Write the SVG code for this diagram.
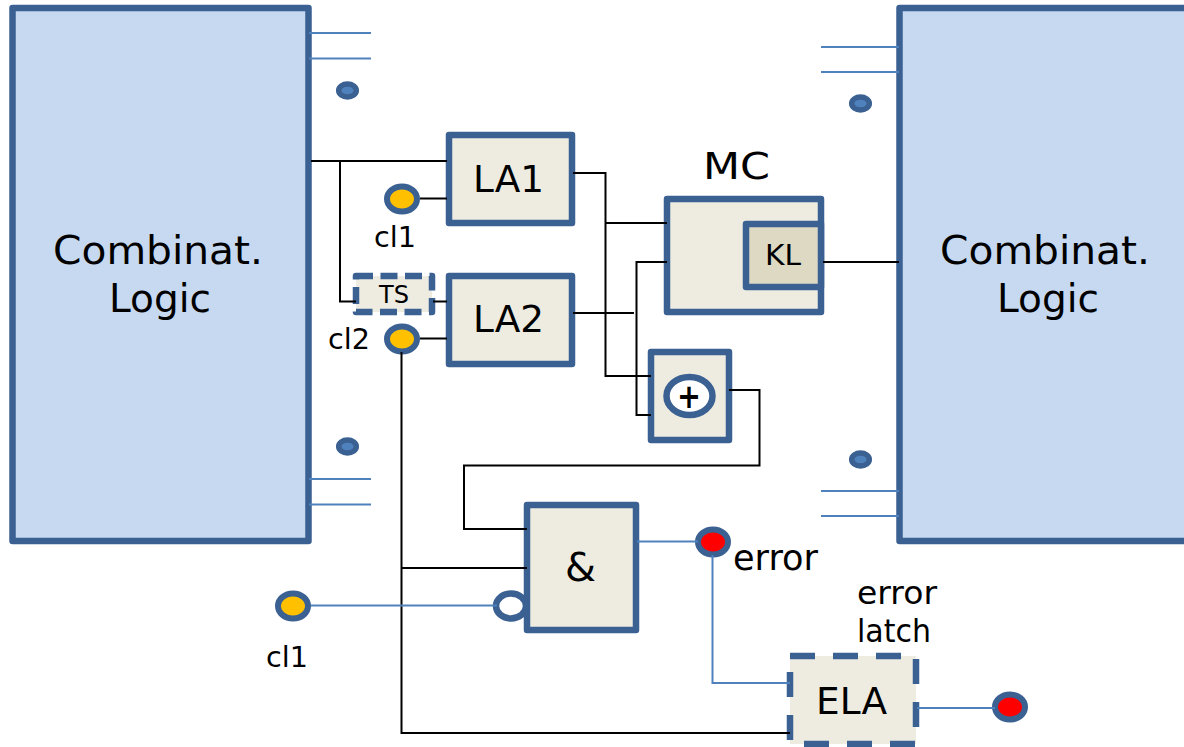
<svg xmlns="http://www.w3.org/2000/svg" width="1184" height="747" viewBox="0 0 1184 747">
<style>
text{font-family:"DejaVu Sans",Verdana,sans-serif;fill:#000;text-anchor:start}
.b{stroke:#3b6092;stroke-width:6.5;stroke-linejoin:round}
.blk{fill:#c6d9f1}
.box{fill:#eeece1}
.clk{fill:#ffc000;stroke:#3b6092;stroke-width:6}
.err{fill:#ff0000;stroke:#3b6092;stroke-width:6}
.dot{fill:#4f81bd;stroke:#3b6092;stroke-width:5.5}
.k{fill:none;stroke:#000;stroke-width:2}
.u{fill:none;stroke:#4f81bd;stroke-width:2}
</style>
<rect width="1184" height="747" fill="#fff"/>
<g id="left-logic">
<rect class="b blk" x="12.5" y="8" width="296" height="533"/>
<text x="53" y="264" font-size="39" textLength="210" lengthAdjust="spacingAndGlyphs">Combinat.</text>
<text x="109" y="312" font-size="39" textLength="102" lengthAdjust="spacingAndGlyphs">Logic</text>
</g>
<g id="right-logic">
<rect class="b blk" x="899.5" y="8" width="300" height="533"/>
<text x="940" y="264" font-size="39" textLength="210" lengthAdjust="spacingAndGlyphs">Combinat.</text>
<text x="997" y="312" font-size="39" textLength="102" lengthAdjust="spacingAndGlyphs">Logic</text>
</g>
<g id="dot-1"><ellipse class="dot" cx="347.5" cy="90.5" rx="8.8" ry="6.5"/></g>
<g id="dot-2"><ellipse class="dot" cx="860.5" cy="103.500" rx="8.8" ry="6.5"/></g>
<g id="dot-3"><ellipse class="dot" cx="347.5" cy="446.500" rx="8.8" ry="6.5"/></g>
<g id="dot-4"><ellipse class="dot" cx="860.5" cy="459.500" rx="8.8" ry="6.5"/></g>
<g id="la1">
<rect class="b box" x="449" y="135" width="123" height="88"/>
<text x="473" y="192" font-size="38" textLength="71" lengthAdjust="spacingAndGlyphs">LA1</text>
</g>
<g id="la2">
<rect class="b box" x="449" y="276" width="123" height="88"/>
<text x="473" y="332" font-size="38" textLength="71" lengthAdjust="spacingAndGlyphs">LA2</text>
</g>
<g id="ts">
<rect class="box" x="356" y="276" width="76" height="36"/>
<rect class="b" fill="none" x="356" y="276" width="76" height="36" stroke-dasharray="17 7.5"/>
<text x="379" y="303" font-size="25" textLength="30" lengthAdjust="spacingAndGlyphs">TS</text>
</g>
<g id="cl1-top">
<ellipse class="clk" cx="402" cy="199" rx="15" ry="12.5"/>
<text x="374" y="247" font-size="29" textLength="42" lengthAdjust="spacingAndGlyphs">cl1</text>
</g>
<g id="cl2">
<ellipse class="clk" cx="402" cy="339" rx="15" ry="12.5"/>
<text x="328" y="349" font-size="29" textLength="42" lengthAdjust="spacingAndGlyphs">cl2</text>
</g>
<g id="mc">
<text x="703" y="179" font-size="38" textLength="67" lengthAdjust="spacingAndGlyphs">MC</text>
<rect class="b box" x="667" y="199" width="154" height="113"/>
</g>
<g id="kl">
<rect class="b" fill="#ddd9c3" x="746" y="224" width="75" height="63"/>
<text x="765" y="265" font-size="28" textLength="36" lengthAdjust="spacingAndGlyphs">KL</text>
</g>
<g id="xor">
<rect class="b box" x="651" y="352" width="78" height="88"/>
<ellipse class="b" fill="#fff" cx="689.5" cy="396" rx="23" ry="19"/>
<text x="677" y="408" font-size="34" font-weight="bold" textLength="24" lengthAdjust="spacingAndGlyphs">+</text>
</g>
<g id="and">
<ellipse class="b" fill="#fff" cx="511" cy="606" rx="15" ry="12.5"/>
<rect class="b box" x="527" y="505" width="109" height="125"/>
<text x="565" y="581" font-size="39" textLength="31" lengthAdjust="spacingAndGlyphs">&amp;</text>
</g>
<g id="cl1-bottom">
<ellipse class="clk" cx="293" cy="606" rx="15" ry="12.5"/>
<text x="266" y="667" font-size="29" textLength="42" lengthAdjust="spacingAndGlyphs">cl1</text>
</g>
<g id="error">
<ellipse class="err" cx="713" cy="542" rx="15" ry="12.5"/>
<text x="733" y="570" font-size="35" textLength="85" lengthAdjust="spacingAndGlyphs">error</text>
</g>
<g id="ela">
<text x="857" y="604" font-size="32" textLength="80" lengthAdjust="spacingAndGlyphs">error</text>
<text x="857" y="642" font-size="32" textLength="74" lengthAdjust="spacingAndGlyphs">latch</text>
<rect class="box" x="790" y="656" width="126" height="88"/>
<rect class="b" fill="none" x="790" y="656" width="126" height="88" stroke-dasharray="25 18"/>
<text x="816" y="714" font-size="37" textLength="71" lengthAdjust="spacingAndGlyphs">ELA</text>
</g>
<g id="error-out"><ellipse class="err" cx="1010" cy="707" rx="15" ry="12.5"/></g>
<g id="connectors">
<path class="k" d="M311 161H447M340 161V301.500H356M433 301.500H447M420 198.500H447M420 338.500H447"/>
<path class="k" d="M573 173H605.500V376H651M605.500 223H667M573 313H634M667 262H636.500V415H651"/>
<path class="k" d="M823 262H899M729 390H759.500V465.500H464V529H527"/>
<path class="k" d="M401.500 352V733H790M401.500 568H527"/>
<path class="u" d="M309 33H371M309 58.500H371M309 479H371M309 504.500H371M821 47H899M821 72H899M821 491H899M821 516H899"/>
<path class="u" d="M311 605.500H497M637 541.500H698M712.500 555V683H790M917 708H995"/>
</g>
</svg>
